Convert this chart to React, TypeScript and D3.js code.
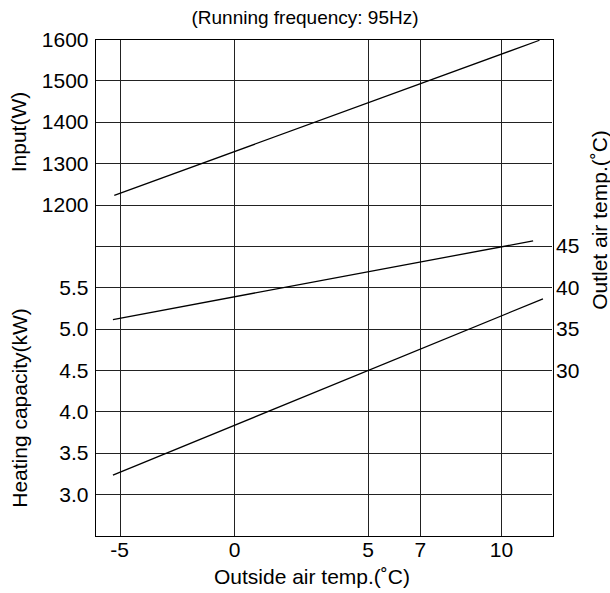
import React from "react";
import * as d3 from "d3";

// ---------- data ----------
const xTicks = [-5, 0, 5, 7, 10];
// the printed x axis is not evenly spaced: break points of the axis (°C)
const xAxisBreaks = [-6.1, -5, 0, 5, 7, 10, 11.9];
const inputTicks = [1600, 1500, 1400, 1300, 1200];
const capacityTicks = [5.5, 5.0, 4.5, 4.0, 3.5, 3.0];
const outletTicks = [45, 40, 35, 30];

const inputX = [-5.23, 11.43];
const inputW = [1222, 1597];
const outletX = [-5.29, 11.19];
const outletC = [36.1, 45.6];
const capacityX = [-5.29, 11.56];
const capacityKW = [3.23, 5.36];

const title = "(Running frequency: 95Hz)";
const xTitle = "Outside air temp.(\u02DAC)";
const inputTitle = "Input(W)";
const capacityTitle = "Heating capacity(kW)";
const outletTitle = "Outlet air temp.(\u02DAC)";

// ---------- layout ----------
const W = 610;
const H = 593;
const left = 94.5;
const right = 552;
const top = 39;
const bottom = 535.5;
const rows = 12;
// fractions of plot width where the axis break points sit
const xBreakFrac = [0, 0.0547, 0.306, 0.598, 0.712, 0.8895, 1];

const FONT = "'Liberation Sans', Arial, Helvetica, sans-serif";

export default function App() {
  const pw = right - left;
  const x = d3
    .scaleLinear()
    .domain(xAxisBreaks)
    .range(xBreakFrac.map((f) => left + f * pw));
  const yRow = d3.scaleLinear().domain([0, rows]).range([top, bottom]);
  const yInput = d3.scaleLinear().domain([1600, 400]).range([top, bottom]);
  const yCap = d3.scaleLinear().domain([8.5, 2.5]).range([top, bottom]);
  const yOut = d3.scaleLinear().domain([70, 10]).range([top, bottom]);

  const line = d3.line<[number, number]>().x((d) => d[0]).y((d) => d[1]);
  const mk = (xs: number[], ys: number[], ys2: (v: number) => number) =>
    line(xs.map((v, i) => [x(v), ys2(ys[i])] as [number, number])) || "";

  const rowIdx = d3.range(1, rows);
  const snap = (v: number) => Math.round(v) + 0.5;

  return (
    <svg
      width={W}
      height={H}
      style={{ position: "absolute", left: 0, top: 0, background: "#fff" }}
      fontFamily={FONT}
    >
      <rect width={W} height={H} fill="#fff" />
      <text x={305} y={24} fontSize={19} textAnchor="middle" fill="#000">
        {title}
      </text>

      {/* grid */}
      <g stroke="#222" strokeWidth={1} shapeRendering="crispEdges">
        {rowIdx.map((r) => (
          <line key={"h" + r} x1={left} x2={right} y1={snap(yRow(r))} y2={snap(yRow(r))} />
        ))}
        {xTicks.map((t) => (
          <line key={"v" + t} x1={snap(x(t))} x2={snap(x(t))} y1={top} y2={bottom} />
        ))}
        <rect
          x={snap(left)}
          y={snap(top)}
          width={Math.round(right - left)}
          height={Math.round(bottom - top)}
          fill="none"
          stroke="#000"
        />
      </g>

      {/* curves */}
      <g fill="none" stroke="#000" strokeWidth={1.3}>
        <path d={mk(inputX, inputW, yInput)} />
        <path d={mk(outletX, outletC, yOut)} />
        <path d={mk(capacityX, capacityKW, yCap)} />
      </g>

      {/* left ticks */}
      <g fontSize={21} textAnchor="end" fill="#000">
        {inputTicks.map((t) => (
          <text key={"i" + t} x={left - 6} y={yInput(t)} dy="0.36em">
            {t}
          </text>
        ))}
        {capacityTicks.map((t) => (
          <text key={"c" + t} x={left - 6} y={yCap(t)} dy="0.36em">
            {t.toFixed(1)}
          </text>
        ))}
      </g>

      {/* right ticks */}
      <g fontSize={21} textAnchor="start" fill="#000">
        {outletTicks.map((t) => (
          <text key={"o" + t} x={right + 4} y={yOut(t)} dy="0.36em">
            {t}
          </text>
        ))}
      </g>

      {/* x ticks */}
      <g fontSize={21} textAnchor="middle" fill="#000">
        {xTicks.map((t) => (
          <text key={"x" + t} x={x(t)} y={557}>
            {t}
          </text>
        ))}
      </g>

      <text x={312} y={584} fontSize={21} textAnchor="middle" fill="#000">
        {xTitle}
      </text>
      <text
        transform="translate(18,132) rotate(-90)"
        fontSize={21}
        textAnchor="middle"
        dy="0.36em"
        fill="#000"
      >
        {inputTitle}
      </text>
      <text
        transform="translate(19,408) rotate(-90)"
        fontSize={21}
        textAnchor="middle"
        dy="0.36em"
        fill="#000"
      >
        {capacityTitle}
      </text>
      <text
        transform="translate(599,220) rotate(-90)"
        fontSize={21}
        textAnchor="middle"
        dy="0.36em"
        fill="#000"
      >
        {outletTitle}
      </text>
    </svg>
  );
}
